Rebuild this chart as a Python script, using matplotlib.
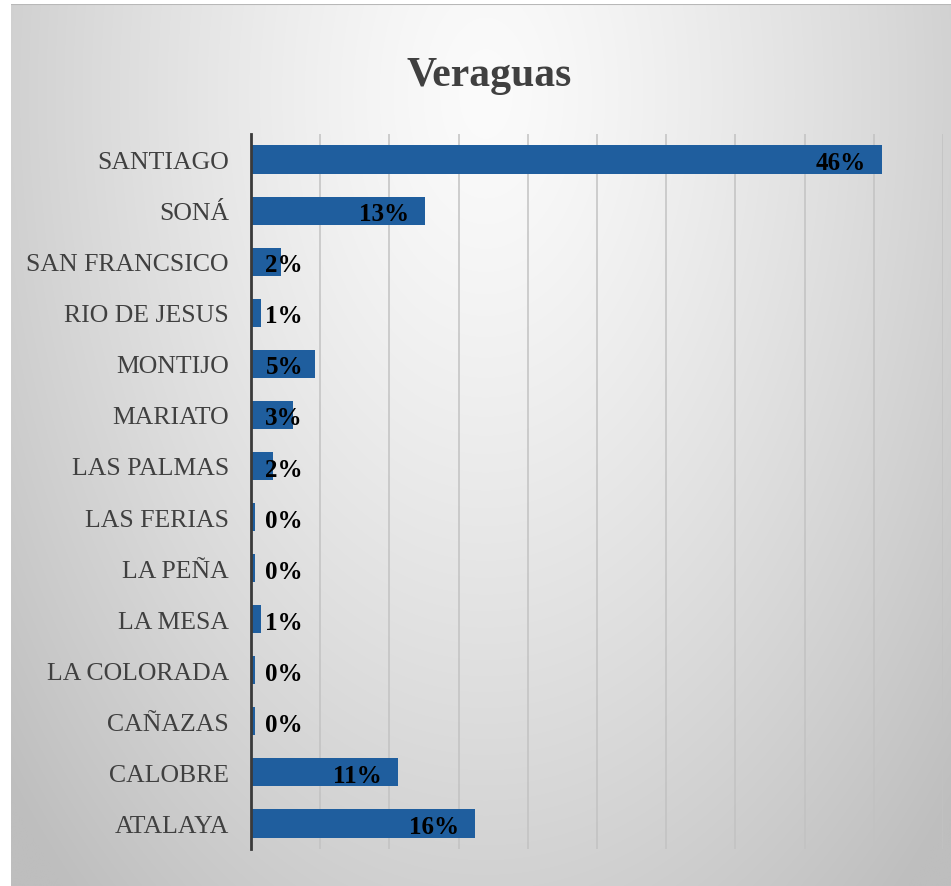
import numpy as np
import matplotlib
matplotlib.use("Agg")
import matplotlib.pyplot as plt

# ------------------------------------------
# Data (share of total, %), top to bottom
# ------------------------------------------
districts = ["SANTIAGO", "SONÁ", "SAN FRANCSICO", "RIO DE JESUS", "MONTIJO",
             "MARIATO", "LAS PALMAS", "LAS FERIAS", "LA PEÑA", "LA MESA",
             "LA COLORADA", "CAÑAZAS", "CALOBRE", "ATALAYA"]
shares = [45.6, 12.6, 2.2, 0.7, 4.6, 3.0, 1.6, 0.3, 0.3, 0.7, 0.3, 0.3, 10.6, 16.2]
title = "Veraguas"

W, H = 951, 887
bar_color = "#1f5e9e"
text_grey = "#404040"
serif = ["Liberation Serif", "DejaVu Serif"]

fig = plt.figure(figsize=(W / 100, H / 100), dpi=100, facecolor="white")

# ------------------------------------------
# Grey radial background
# ------------------------------------------
bg = fig.add_axes([11 / W, 0, 1 - 11 / W, 1 - 5 / H], zorder=0)
yy, xx = np.mgrid[0:H, 0:W]
d = np.sqrt(((xx - 480) / 480.0) ** 2 + ((yy - 90) / 800.0) ** 2)
shade = np.clip(251 - 42 * d ** 1.3, 190, 255) / 255.0
bg.imshow(np.dstack([shade] * 3), aspect="auto", extent=[0, 1, 0, 1])
bg.axhline(1, color="#b8b8b8", lw=1.5)
bg.set_axis_off()

# ------------------------------------------
# Bars
# ------------------------------------------
ax = fig.add_axes([251 / W, 1 - 850 / H, (943 - 251) / W, (850 - 135) / H], zorder=1)
ax.patch.set_alpha(0)
y = np.arange(len(districts))
ax.barh(y, shares, height=0.55, color=bar_color, zorder=3)

ax.set_xlim(0, 50)
ax.set_ylim(len(districts) - 0.5, -0.5)
ax.set_xticks(np.arange(5, 51, 5))
ax.xaxis.grid(True, color="#c2c2c2", lw=1.1)
ax.set_axisbelow(True)
ax.tick_params(axis="x", length=0, labelbottom=False)
ax.tick_params(axis="y", length=0, pad=16)
ax.set_yticks(y)
ax.set_yticklabels(districts, fontsize=18.5, family=serif, color=text_grey)

for side in ["top", "right", "bottom"]:
    ax.spines[side].set_visible(False)
ax.spines["left"].set_color("#3a3a3a")
ax.spines["left"].set_linewidth(2)
ax.spines["left"].set_zorder(4)

# value labels: inside end, pushed out for short bars
for yi, v in zip(y, shares):
    x_right = max(v - 1.16, 3.76)
    ax.text(x_right, yi + 0.06, f"{round(v):.0f}%", ha="right", va="center",
            fontsize=18, fontweight="bold", family=serif, color="black", zorder=5)

fig.text(489 / W, 1 - 86 / H, title, ha="center", va="baseline",
         fontsize=30, fontweight="bold", family=serif, color=text_grey)

fig.savefig("out.png", dpi=100, facecolor=fig.get_facecolor())
